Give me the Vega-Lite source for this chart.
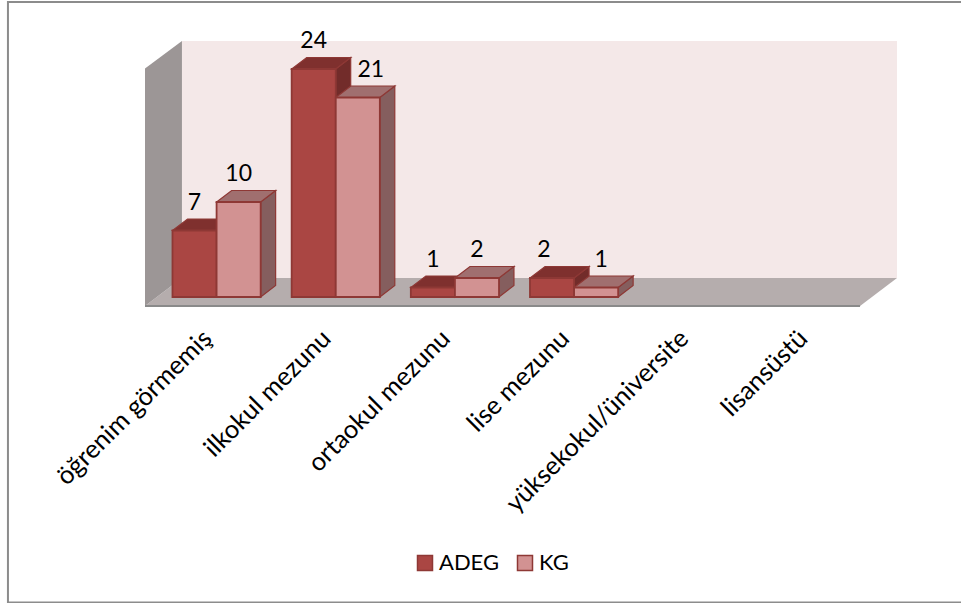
{
  "$schema": "https://vega.github.io/schema/vega-lite/v6.json",
  "autosize": {"type": "none"},
  "padding": {"left": 145, "top": 41, "right": 64, "bottom": 297},
  "width": 752,
  "height": 265,
  "background": "#ffffff",
  "config": {"view": {"stroke": null}, "font": "Lato"},
  "datasets": {
    "education": [
      {"level": "öğrenim görmemiş", "group": "ADEG", "count": 7},
      {"level": "öğrenim görmemiş", "group": "KG", "count": 10},
      {"level": "ilkokul mezunu", "group": "ADEG", "count": 24},
      {"level": "ilkokul mezunu", "group": "KG", "count": 21},
      {"level": "ortaokul mezunu", "group": "ADEG", "count": 1},
      {"level": "ortaokul mezunu", "group": "KG", "count": 2},
      {"level": "lise mezunu", "group": "ADEG", "count": 2},
      {"level": "lise mezunu", "group": "KG", "count": 1}
    ],
    "room": [
      {"face": "back", "u": 0.31, "top": 27.9, "bottom": 2.95},
      {"face": "back", "u": 6.31, "top": 27.9, "bottom": 2.95},
      {"face": "floor", "u": 0, "top": 0, "bottom": 0},
      {"face": "floor", "u": 0.31, "top": 2.95, "bottom": 0},
      {"face": "floor", "u": 6, "top": 2.95, "bottom": 0},
      {"face": "floor", "u": 6.31, "top": 2.95, "bottom": 2.95},
      {"face": "side", "u": 0, "top": 25, "bottom": 0},
      {"face": "side", "u": 0.31, "top": 27.9, "bottom": 2.95}
    ],
    "outline": [{"u": -1.15, "u2": 8, "top": 32, "bottom": -31.2}],
    "floorEdge": [{"u": 0, "u2": 6, "top": 0}]
  },
  "resolve": {"scale": {"x": "independent", "color": "independent"}},
  "layer": [
    {
      "encoding": {
        "x": {"field": "u", "type": "quantitative", "axis": null, "scale": {"domain": [0, 6.31], "nice": false, "zero": false}},
        "y": {"field": "top", "type": "quantitative", "axis": null, "scale": {"domain": [0, 27.895], "nice": false}}
      },
      "layer": [
        {
          "data": {"name": "outline"},
          "mark": {"type": "rect", "fill": "transparent", "stroke": "#8c8c8c", "strokeWidth": 2, "clip": false},
          "encoding": {"x2": {"field": "u2"}, "y2": {"field": "bottom"}}
        },
        {
          "data": {"name": "room"},
          "mark": {"type": "area", "opacity": 1},
          "encoding": {
            "y2": {"field": "bottom"},
            "detail": {"field": "face"},
            "color": {"field": "face", "type": "nominal", "legend": null, "scale": {"domain": ["back", "floor", "side"], "range": ["#f4e8e8", "#b5adad", "#9c9696"]}}
          }
        },
        {
          "data": {"name": "floorEdge"},
          "mark": {"type": "rule", "stroke": "#8a8a8a", "strokeWidth": 2},
          "encoding": {"x2": {"field": "u2"}}
        }
      ]
    },
    {
      "data": {"name": "education"},
      "encoding": {
        "x": {
          "field": "level",
          "type": "nominal",
          "sort": null,
          "title": null,
          "scale": {
            "domain": ["öğrenim görmemiş", "ilkokul mezunu", "ortaokul mezunu", "lise mezunu", "yüksekokul/üniversite", "lisansüstü"],
            "range": [12, 727],
            "paddingInner": 0.26,
            "paddingOuter": 0.13
          },
          "axis": {
            "domain": false,
            "ticks": false,
            "labelAngle": -45,
            "labelAlign": "right",
            "labelBaseline": "middle",
            "labelFont": "Lato",
            "labelFontSize": 25.5,
            "labelColor": "#000000",
            "labelPadding": 28,
            "labelOffset": -9,
            "labelLimit": 400
          }
        },
        "xOffset": {"field": "group", "type": "nominal", "scale": {"domain": ["ADEG", "KG"], "paddingInner": 0, "paddingOuter": 0}},
        "y": {"field": "count", "type": "quantitative", "axis": null, "scale": {"domain": [0, 27.895], "nice": false}}
      },
      "layer": [
        {
          "mark": {"type": "point", "filled": true, "opacity": 1, "size": 4, "yOffset": -9, "stroke": "#8e3835", "strokeWidth": 1.2},
          "encoding": {
            "shape": {
              "field": "count",
              "type": "nominal",
              "legend": null,
              "scale": {
                "domain": [1, 2, 7, 10, 21, 24],
                "range": [
                  "M22,0L37,-11.5L37,-2L22,9.5Z",
                  "M22,0L37,-11.5L37,7.5L22,19Z",
                  "M22,0L37,-11.5L37,55L22,66.5Z",
                  "M22,0L37,-11.5L37,83.5L22,95Z",
                  "M22,0L37,-11.5L37,188L22,199.5Z",
                  "M22,0L37,-11.5L37,216.5L22,228Z"
                ]
              }
            },
            "color": {"condition": {"test": "datum.group === 'ADEG'", "value": "#722c2a"}, "value": "#855e5e"}
          }
        },
        {
          "mark": {"type": "point", "filled": true, "opacity": 1, "size": 4, "yOffset": -9, "stroke": "#8e3835", "strokeWidth": 1.2, "shape": "M-22,0L-7,-11.5L37,-11.5L22,0Z"},
          "encoding": {
            "color": {"condition": {"test": "datum.group === 'ADEG'", "value": "#7f302e"}, "value": "#a06f6f"}
          }
        },
        {
          "mark": {"type": "bar", "yOffset": -9, "y2Offset": -9, "stroke": "#8e3835", "strokeWidth": 1.8},
          "encoding": {
            "color": {
              "field": "group",
              "type": "nominal",
              "scale": {"domain": ["ADEG", "KG"], "range": ["#aa4643", "#d29292"]},
              "legend": {
                "title": null,
                "orient": "none",
                "direction": "horizontal",
                "legendX": 269,
                "legendY": 511,
                "symbolType": "square",
                "symbolSize": 225,
                "symbolStrokeColor": "#8e3835",
                "symbolStrokeWidth": 1.5,
                "symbolOpacity": 1,
                "labelFont": "Lato",
                "labelFontSize": 22,
                "labelColor": "#000000",
                "columnPadding": 14,
                "labelOffset": 3
              }
            }
          }
        },
        {
          "transform": [{"filter": "!((datum.level === 'ilkokul mezunu' && datum.group === 'KG') || datum.level === 'lise mezunu')"}],
          "mark": {"type": "text", "font": "Lato", "fontSize": 23, "fill": "#000000", "baseline": "middle", "yOffset": -37},
          "encoding": {"text": {"field": "count", "type": "quantitative"}}
        },
        {
          "transform": [{"filter": "datum.level === 'ilkokul mezunu' && datum.group === 'KG'"}],
          "mark": {"type": "text", "font": "Lato", "fontSize": 23, "fill": "#000000", "baseline": "middle", "dx": 13, "yOffset": -37},
          "encoding": {"text": {"field": "count", "type": "quantitative"}}
        },
        {
          "transform": [{"filter": "datum.level === 'lise mezunu' && datum.group === 'ADEG'"}],
          "mark": {"type": "text", "font": "Lato", "fontSize": 23, "fill": "#000000", "baseline": "middle", "dx": -8, "yOffset": -37},
          "encoding": {"text": {"field": "count", "type": "quantitative"}}
        },
        {
          "transform": [{"filter": "datum.level === 'lise mezunu' && datum.group === 'KG'"}],
          "mark": {"type": "text", "font": "Lato", "fontSize": 23, "fill": "#000000", "baseline": "middle", "dx": 5, "yOffset": -37},
          "encoding": {"text": {"field": "count", "type": "quantitative"}}
        }
      ]
    }
  ]
}
